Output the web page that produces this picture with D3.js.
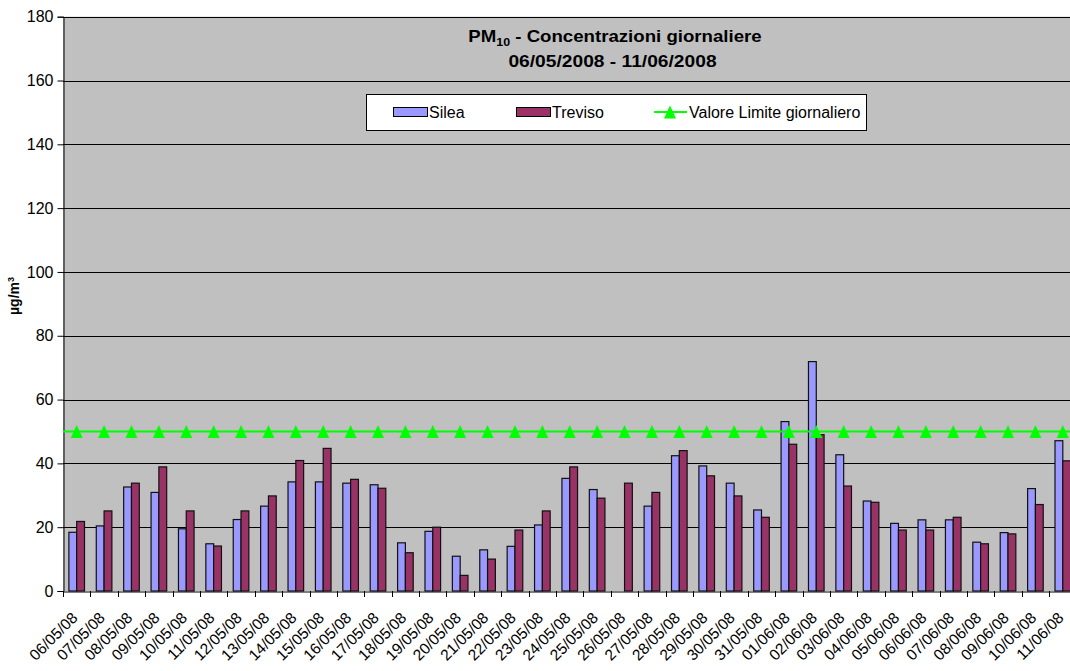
<!DOCTYPE html>
<html>
<head>
<meta charset="utf-8">
<script src="https://cdn.jsdelivr.net/npm/d3@7"></script>
<style>
  html, body { margin: 0; padding: 0; background: #fff; }
  svg { display: block; font-family: "Liberation Sans", Arial, sans-serif; }
</style>
</head>
<body>
<svg id="chart" width="1070" height="671"></svg>
<script>
const dates = ["06/05/08","07/05/08","08/05/08","09/05/08","10/05/08","11/05/08","12/05/08","13/05/08","14/05/08","15/05/08","16/05/08","17/05/08","18/05/08","19/05/08","20/05/08","21/05/08","22/05/08","23/05/08","24/05/08","25/05/08","26/05/08","27/05/08","28/05/08","29/05/08","30/05/08","31/05/08","01/06/08","02/06/08","03/06/08","04/06/08","05/06/08","06/06/08","07/06/08","08/06/08","09/06/08","10/06/08","11/06/08"];
const silea = [18.4,20.4,32.6,30.9,19.5,14.8,22.4,26.6,34.2,34.2,33.8,33.3,15.1,18.7,10.9,12.9,14.0,20.7,35.3,31.8,null,26.6,42.4,39.2,33.8,25.4,53.1,71.9,42.7,28.2,21.2,22.3,22.3,15.3,18.3,32.1,47.1];
const treviso = [21.8,25.1,33.8,38.9,25.1,14.1,25.1,29.8,40.9,44.7,35.0,32.2,12.0,20.0,4.9,10.0,19.1,25.1,38.9,29.1,33.8,30.9,44.0,36.1,29.8,23.1,46.0,49.0,32.9,27.8,19.1,19.1,23.1,14.8,17.9,27.1,40.8];
const limitValue = 50;
const yTicks = [0,20,40,60,80,100,120,140,160,180];
const seriesNames = ["Silea","Treviso","Valore Limite giornaliero"];
const titleLine2 = "06/05/2008 - 11/06/2008";

(function () {
const svg = d3.select("#chart");
const pLeft = 63, pRight = 1076.5, pTop = 16.7, pBottom = 591;
const colSilea = "#9999FF", colTreviso = "#993366", colLimit = "#00FF00", plotBg = "#C0C0C0";

const x = d3.scaleBand().domain(dates).range([pLeft, pRight]).padding(0);
const y = d3.scaleLinear().domain([0, 180]).range([pBottom, pTop]);
const bw = x.bandwidth() * 0.285;

svg.append("rect").attr("x", pLeft).attr("y", pTop).attr("width", pRight - pLeft).attr("height", pBottom - pTop).attr("fill", plotBg);

svg.append("g").selectAll("line").data(yTicks.filter(d => d > 0)).join("line")
  .attr("x1", pLeft).attr("x2", pRight)
  .attr("y1", d => Math.round(y(d)) + 0.5).attr("y2", d => Math.round(y(d)) + 0.5)
  .attr("stroke", "#000").attr("stroke-width", 1);

const yAxis = d3.axisLeft(y).tickValues(yTicks).tickSize(6).tickPadding(4);
const gy = svg.append("g").attr("transform", `translate(${pLeft + 0.5},0)`).call(yAxis);
gy.select(".domain").attr("stroke", "#000");
gy.selectAll(".tick line").attr("stroke", "#000");
gy.selectAll(".tick text").attr("font-size", 16).attr("fill", "#000").attr("font-family", "Liberation Sans, Arial, sans-serif");

const gb = svg.append("g");
gb.selectAll("rect.s").data(dates.map((d, i) => ({d, v: silea[i]})).filter(o => o.v != null)).join("rect")
  .attr("class", "s")
  .attr("x", o => x(o.d) + x.bandwidth() / 2 - bw)
  .attr("y", o => y(o.v))
  .attr("width", bw)
  .attr("height", o => y(0) - y(o.v))
  .attr("fill", colSilea).attr("stroke", "#111").attr("stroke-width", 1.2);
gb.selectAll("rect.t").data(dates.map((d, i) => ({d, v: treviso[i]})).filter(o => o.v != null)).join("rect")
  .attr("class", "t")
  .attr("x", o => x(o.d) + x.bandwidth() / 2)
  .attr("y", o => y(o.v))
  .attr("width", bw)
  .attr("height", o => y(0) - y(o.v))
  .attr("fill", colTreviso).attr("stroke", "#111").attr("stroke-width", 1.2);

const xAxis = d3.axisBottom(x).tickSize(0).tickFormat("");
const gx = svg.append("g").attr("transform", `translate(0,${pBottom + 0.5})`).call(xAxis);
gx.select(".domain").attr("stroke", "#000");
svg.append("g").selectAll("line").data(dates).join("line")
  .attr("x1", d => Math.round(x(d)) + 0.5).attr("x2", d => Math.round(x(d)) + 0.5)
  .attr("y1", pBottom).attr("y2", pBottom + 6).attr("stroke", "#000");
svg.append("g").selectAll("text").data(dates).join("text")
  .attr("transform", d => `translate(${x(d) + x.bandwidth() / 2 - 2},${pBottom + 24}) rotate(-45)`)
  .attr("text-anchor", "end").attr("dy", "0.35em")
  .attr("font-size", 15.5).attr("fill", "#000")
  .text(d => d);

svg.append("line").attr("x1", pLeft).attr("x2", pRight).attr("y1", y(limitValue)).attr("y2", y(limitValue))
  .attr("stroke", colLimit).attr("stroke-width", 2);
const tri = "M0,-6.5L6,6.5L-6,6.5Z";
svg.append("g").selectAll("path").data(dates).join("path")
  .attr("d", tri)
  .attr("transform", d => `translate(${x(d) + x.bandwidth() / 2},${y(limitValue)})`)
  .attr("fill", colLimit);

const t1 = svg.append("text").attr("transform", "translate(615,42) scale(1.13,1)").attr("text-anchor", "middle")
  .attr("font-size", 16.5).attr("font-weight", "bold").attr("fill", "#000");
t1.append("tspan").text("PM");
t1.append("tspan").attr("font-size", 11).attr("dy", 4).text("10");
t1.append("tspan").attr("dy", -4).text(" - Concentrazioni giornaliere");
svg.append("text").attr("transform", "translate(612.5,67) scale(1.13,1)").attr("text-anchor", "middle")
  .attr("font-size", 17).attr("font-weight", "bold").attr("fill", "#000").text(titleLine2);

const lg = svg.append("g");
lg.append("rect").attr("x", 366.5).attr("y", 94.5).attr("width", 500).attr("height", 36).attr("fill", "#fff").attr("stroke", "#000");
lg.append("rect").attr("x", 393.5).attr("y", 107.5).attr("width", 34).attr("height", 9).attr("fill", colSilea).attr("stroke", "#000");
lg.append("text").attr("x", 429).attr("y", 117.5).attr("font-size", 16).text(seriesNames[0]);
lg.append("rect").attr("x", 516.5).attr("y", 107.5).attr("width", 34).attr("height", 9).attr("fill", colTreviso).attr("stroke", "#000");
lg.append("text").attr("x", 552).attr("y", 117.5).attr("font-size", 16).text(seriesNames[1]);
lg.append("line").attr("x1", 654).attr("x2", 687).attr("y1", 112).attr("y2", 112).attr("stroke", colLimit).attr("stroke-width", 2);
lg.append("path").attr("d", tri).attr("transform", "translate(670,112)").attr("fill", colLimit);
lg.append("text").attr("x", 689).attr("y", 117.5).attr("font-size", 16).text(seriesNames[2]);

const yt = svg.append("text").attr("transform", "translate(19,296) rotate(-90)").attr("text-anchor", "middle")
  .attr("font-size", 14).attr("font-weight", "bold").attr("fill", "#000");
yt.append("tspan").text("µg/m");
yt.append("tspan").attr("font-size", 9).attr("dy", -5).text("3");
})();
</script>
</body>
</html>
